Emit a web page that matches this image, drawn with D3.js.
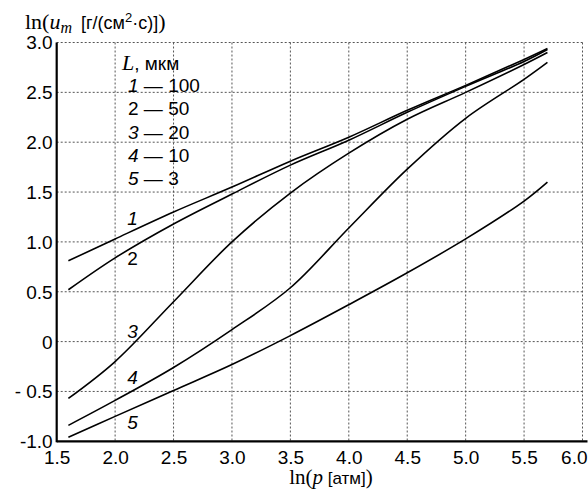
<!DOCTYPE html>
<html>
<head>
<meta charset="utf-8">
<script src="https://cdn.jsdelivr.net/npm/d3@7"></script>
<style>
  html, body { margin: 0; padding: 0; background: #fff; }
  svg { display: block; }
</style>
</head>
<body>
<svg id="chart" width="588" height="492"></svg>
<script>
// ---- data ----
const xValues = [1.6, 2.0, 2.5, 3.0, 3.5, 4.0, 4.5, 5.0, 5.5, 5.7];
const curve1 = [0.81, 1.03, 1.30, 1.55, 1.81, 2.05, 2.32, 2.57, 2.83, 2.94];
const curve2 = [0.52, 0.84, 1.18, 1.48, 1.77, 2.02, 2.30, 2.56, 2.81, 2.93];
const curve3 = [-0.57, -0.20, 0.40, 1.00, 1.49, 1.89, 2.23, 2.50, 2.78, 2.90];
const curve4 = [-0.84, -0.59, -0.26, 0.12, 0.54, 1.14, 1.73, 2.24, 2.63, 2.80];
const curve5 = [-0.96, -0.75, -0.49, -0.23, 0.06, 0.37, 0.69, 1.03, 1.41, 1.60];
const curveNames = ["1", "2", "3", "4", "5"];
const curveItalic = [true, false, true, true, true];
const lengthsUm = ["100", "50", "20", "10", "3"];
const xTicks = [1.5, 2.0, 2.5, 3.0, 3.5, 4.0, 4.5, 5.0, 5.5, 6.0];
const xTickLabels = ["1.5", "2.0", "2.5", "3.0", "3.5", "4.0", "4.5", "5.0", "5.5", "6.0"];
const yTicks = [-1.0, -0.5, 0, 0.5, 1.0, 1.5, 2.0, 2.5, 3.0];
const yTickLabels = ["-1.0", "- 0.5", "0", "0.5", "1.0", "1.5", "2.0", "2.5", "3.0"];
// label anchor points (data coords) for curve numbers
const labelX = [2.15, 2.15, 2.15, 2.15, 2.15];
const labelY = [1.24, 0.83, 0.10, -0.355, -0.81];

const series = [curve1, curve2, curve3, curve4, curve5];

// ---- layout ----
const svg = d3.select("#chart");
const x = d3.scaleLinear().domain([1.5, 6.0]).range([56.7, 582.5]);
const y = d3.scaleLinear().domain([-1, 3]).range([441.3, 42.5]);
const sans = "'Liberation Sans', Arial, Helvetica, sans-serif";
const serif = "'Liberation Serif', 'Times New Roman', serif";

// grid
const grid = svg.append("g").attr("stroke", "#555").attr("stroke-width", 1)
  .attr("stroke-dasharray", "2,2").attr("fill", "none");
xTicks.filter(t => t > 1.5).forEach(t => {
  grid.append("line").attr("x1", x(t)).attr("x2", x(t)).attr("y1", y(3)).attr("y2", y(-1));
});
yTicks.filter(t => t > -1).forEach(t => {
  grid.append("line").attr("x1", x(1.5)).attr("x2", x(6)).attr("y1", y(t)).attr("y2", y(t));
});

// axes
const xAxis = d3.axisBottom(x).tickValues(xTicks).tickSize(0)
  .tickFormat((d, i) => xTickLabels[i]);
const gx = svg.append("g").attr("transform", `translate(0,${y(-1)})`).call(xAxis);
gx.select(".domain").attr("stroke", "#000").attr("stroke-width", 2.2)
  .attr("d", `M${x(1.5)},0H${x(6) + 5}`);
gx.selectAll("text").attr("font-family", sans).attr("font-size", 19)
  .attr("fill", "#000").attr("dy", "0.71em").attr("y", 9);
gx.selectAll("text").filter((d, i) => i === xTicks.length - 1)
  .attr("text-anchor", "end").attr("x", 587 - x(6));

const yAxis = d3.axisLeft(y).tickValues(yTicks).tickSize(0)
  .tickFormat((d, i) => yTickLabels[i]);
const gy = svg.append("g").attr("transform", `translate(${x(1.5)},0)`).call(yAxis);
gy.select(".domain").attr("stroke", "#000").attr("stroke-width", 2.2)
  .attr("d", `M0,${y(3)}V${y(-1) + 1}`);
gy.selectAll("text").attr("font-family", sans).attr("font-size", 19)
  .attr("fill", "#000").attr("x", -4).attr("dy", "0.34em");

// curves
const line = d3.line().x((d, i) => x(xValues[i])).y(d => y(d)).curve(d3.curveCatmullRom.alpha(0.5));
series.forEach(s => {
  svg.append("path").datum(s).attr("d", line).attr("fill", "none")
    .attr("stroke", "#000").attr("stroke-width", 1.6);
});

// curve labels
curveNames.forEach((n, i) => {
  svg.append("text").attr("x", x(labelX[i])).attr("y", y(labelY[i]))
    .attr("text-anchor", "middle").attr("dy", "0.35em")
    .attr("font-family", sans).attr("font-size", 19)
    .attr("font-style", curveItalic[i] ? "italic" : "normal").text(n);
});

// legend
const leg = svg.append("g");
const lt = leg.append("text").attr("x", 122).attr("y", 70).attr("font-size", 19);
lt.append("tspan").attr("font-family", serif).attr("font-style", "italic").attr("font-size", 22).text("L");
lt.append("tspan").attr("font-family", sans).text(", мкм");
curveNames.forEach((n, i) => {
  const t = leg.append("text").attr("x", 128).attr("y", 92 + i * 23.3)
    .attr("font-family", sans).attr("font-size", 19);
  t.append("tspan").attr("font-style", curveItalic[i] ? "italic" : "normal").text(n);
  t.append("tspan").text(" \u2014 " + lengthsUm[i]);
});

// y title
const yt = svg.append("text").attr("x", 25).attr("y", 29).attr("fill", "#000");
yt.append("tspan").attr("font-family", serif).attr("font-size", 22).text("ln(");
yt.append("tspan").attr("font-family", serif).attr("font-style", "italic").attr("font-size", 22).text("u");
yt.append("tspan").attr("font-family", serif).attr("font-style", "italic").attr("font-size", 16).attr("dy", 4).text("m");
yt.append("tspan").attr("font-family", sans).attr("font-size", 18).attr("dy", -4).text("\u2002[г/(см");
yt.append("tspan").attr("font-family", sans).attr("font-size", 13).attr("dy", -7).text("2");
yt.append("tspan").attr("font-family", sans).attr("font-size", 18).attr("dy", 7).text("·с)]");
yt.append("tspan").attr("font-family", serif).attr("font-size", 22).text(")");

// x title
const xt = svg.append("text").attr("x", 331).attr("y", 484).attr("text-anchor", "middle").attr("fill", "#000");
xt.append("tspan").attr("font-family", serif).attr("font-size", 21).text("ln(");
xt.append("tspan").attr("font-family", serif).attr("font-style", "italic").attr("font-size", 21).text("p");
xt.append("tspan").attr("font-family", sans).attr("font-size", 17).text(" [атм]");
xt.append("tspan").attr("font-family", serif).attr("font-size", 21).text(")");
</script>
</body>
</html>
